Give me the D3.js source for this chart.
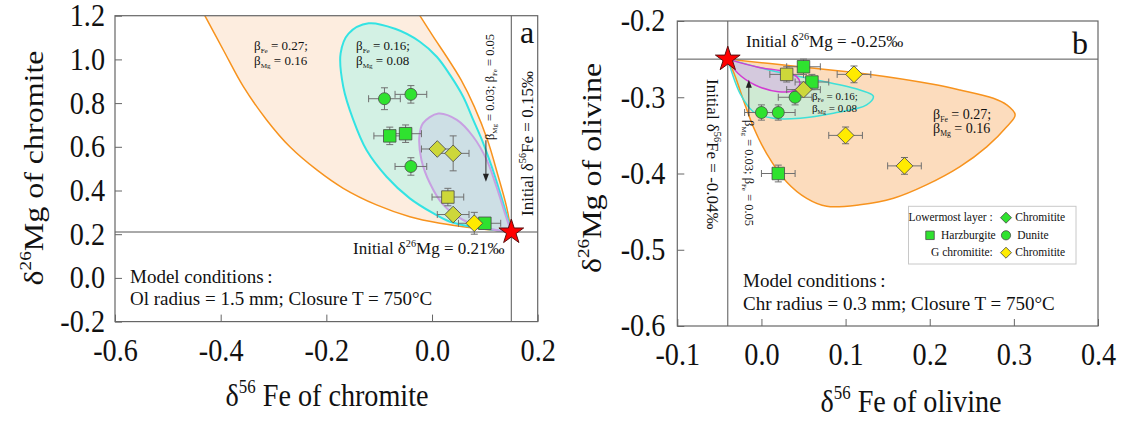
<!DOCTYPE html>
<html>
<head>
<meta charset="utf-8">
<script src="https://cdn.jsdelivr.net/npm/d3@7"></script>
<style>
  html, body { margin: 0; padding: 0; background: #fff; }
  svg { display: block; font-family: "Liberation Serif", "Times New Roman", serif; }
  text { white-space: pre; }
</style>
</head>
<body>
<svg id="chart" width="1123" height="421"></svg>
<script>
// ---------------- Panel a: chromite ----------------
const aFeTicks = [-0.6, -0.4, -0.2, 0.0, 0.2];
const aMgTicks = [-0.2, 0.0, 0.2, 0.4, 0.6, 0.8, 1.0, 1.2];
const aInitFe = 0.15;
const aInitMg = 0.21;

// [δ56Fe, δ26Mg, ±Fe, ±Mg]
const aHarzburgite = [[-0.08, 0.65, 0.03, 0.04], [-0.05, 0.66, 0.03, 0.04], [0.10, 0.25, 0.03, 0.02]];
const aDunite = [[-0.09, 0.82, 0.03, 0.05], [-0.04, 0.84, 0.03, 0.04], [-0.04, 0.51, 0.03, 0.04]];
const aLowerChromitite = [[0.01, 0.59, 0.03, 0.02], [0.04, 0.57, 0.03, 0.08], [0.04, 0.29, 0.03, 0.02]];
const aLowerSquare = [[0.03, 0.37, 0.03, 0.04]];
const aGChromitite = [[0.08, 0.25, 0.03, 0.05]];

// diffusion model envelopes [δ56Fe, δ26Mg]
const aModel27Left = [[-0.43, 1.2], [-0.395, 1.043], [-0.357, 0.875], [-0.313, 0.723], [-0.269, 0.600],
  [-0.218, 0.494], [-0.168, 0.410], [-0.105, 0.334], [-0.042, 0.280], [0.015, 0.250], [0.078, 0.228], [0.15, 0.21]];
const aModel27Right = [[0.15, 0.21], [0.141, 0.326], [0.1255, 0.463], [0.105, 0.631], [0.080, 0.784],
  [0.055, 0.906], [0.0277, 1.012], [0.0024, 1.104], [-0.023, 1.2]];
const aModel16 = [[0.15, 0.21], [0.144, 0.265], [0.129, 0.387], [0.113, 0.509], [0.097, 0.616], [0.078, 0.723],
  [0.059, 0.829], [0.034, 0.929], [0.009, 1.012], [-0.023, 1.081], [-0.070, 1.140], [-0.120, 1.165],
  [-0.158, 1.118], [-0.173, 1.028], [-0.168, 0.875], [-0.149, 0.723], [-0.124, 0.585], [-0.086, 0.463],
  [-0.042, 0.364], [0.002, 0.296], [0.034, 0.257], [0.078, 0.233], [0.119, 0.219], [0.15, 0.21]];
const aModel03 = [[0.15, 0.21], [0.138, 0.296], [0.122, 0.417], [0.1035, 0.540], [0.078, 0.646], [0.047, 0.723],
  [0.012, 0.752], [-0.017, 0.708], [-0.024, 0.646], [-0.020, 0.540], [-0.004, 0.433], [0.021, 0.335],
  [0.059, 0.265], [0.1035, 0.227], [0.15, 0.21]];

// ---------------- Panel b: olivine ----------------
const bFeTicks = [-0.1, 0.0, 0.1, 0.2, 0.3, 0.4];
const bMgTicks = [-0.6, -0.5, -0.4, -0.3, -0.2];
const bInitFe = -0.04;
const bInitMg = -0.25;

const bHarzburgite = [[0.05, -0.26, 0.02, 0.01], [0.06, -0.28, 0.02, 0.01], [0.02, -0.40, 0.02, 0.011]];
const bDunite = [[0.04, -0.30, 0.02, 0.01], [0.00, -0.32, 0.02, 0.01], [0.02, -0.32, 0.02, 0.01]];
const bLowerChromitite = [[0.05, -0.29, 0.02, 0.005]];
const bLowerSquare = [[0.03, -0.27, 0.02, 0.01]];
const bGChromitite = [[0.11, -0.27, 0.02, 0.011], [0.10, -0.35, 0.02, 0.011], [0.17, -0.39, 0.02, 0.011]];

const bModel27 = [[-0.04, -0.25], [0.0456, -0.260], [0.125, -0.2695], [0.204, -0.283], [0.236, -0.2905],
  [0.2756, -0.3014], [0.2915, -0.310], [0.3015, -0.323], [0.2915, -0.3386], [0.2677, -0.365], [0.236, -0.391],
  [0.196, -0.415], [0.157, -0.4325], [0.117, -0.441], [0.0776, -0.443], [0.0538, -0.4325], [0.030, -0.411],
  [0.006, -0.3735], [-0.0097, -0.3386], [-0.0215, -0.3036], [-0.031, -0.273], [-0.04, -0.25]];
const bModel16 = [[-0.04, -0.25], [0.018, -0.2665], [0.0657, -0.2774], [0.117, -0.2905], [0.133, -0.2987],
  [0.125, -0.310], [0.0855, -0.321], [0.0459, -0.3276], [0.014, -0.3276], [-0.0097, -0.319], [-0.0255, -0.295],
  [-0.04, -0.25]];
const bModel03 = [[-0.04, -0.25], [-0.004, -0.2607], [0.028, -0.2665], [0.042, -0.273], [0.0458, -0.2817],
  [0.040, -0.2905], [0.020, -0.2927], [-0.0076, -0.2839], [-0.028, -0.2686], [-0.04, -0.25]];

// ---------------- styles ----------------
const GREEN = "#2fe22f", OLIVE = "#cdd73a", YELLOW = "#ffeb00";
const MARK_STROKE = "#4a4a4a";
const FONT_TICK = 31, TICK_SQUEEZE = 0.91;
const FONT_TITLE = 32, TITLE_SQUEEZE = 0.88;

const svg = d3.select("#chart");
svg.append("rect").attr("width", 1123).attr("height", 421).attr("fill", "#fff");

// text with super/subscript runs; optional rotation and glyph squeeze
function rich(g, x, y, size, parts, opts = {}) {
  const [sx, sy] = opts.scale || [1, 1];
  const t = g.append("text")
    .attr("x", 0).attr("y", 0)
    .attr("font-size", size)
    .attr("fill", "#111")
    .attr("text-anchor", opts.anchor || "start")
    .attr("transform", `translate(${x},${y}) rotate(${opts.rotate || 0}) scale(${sx},${sy})`);
  let shift = 0;
  parts.forEach(p => {
    const [str, kind] = Array.isArray(p) ? p : [p, null];
    const target = kind === "sup" ? -size * 0.42 : kind === "sub" ? size * 0.22 : 0;
    const ts = t.append("tspan").text(str).attr("dy", target - shift);
    if (kind) ts.attr("font-size", size * (kind === "sup" ? 0.6 : 0.55));
    shift = target;
  });
  return t;
}

function markerPath(shape) {
  if (shape === "circle") return d3.symbol(d3.symbolCircle, Math.PI * 6 * 6)();
  if (shape === "square") return d3.symbol(d3.symbolSquare, 12.5 * 12.5)();
  return d3.symbol(d3.symbolSquare, 11.8 * 11.8)(); // rotated into a diamond
}

function drawPanel(cfg) {
  const { id, x, y, xTicks, yTicks } = cfg;
  const g = svg.append("g");
  const [x0, x1] = x.range(), [y0, y1] = y.range();

  const clip = svg.append("clipPath").attr("id", "clip-" + id);
  clip.append("rect").attr("x", x0).attr("y", y1).attr("width", x1 - x0).attr("height", y0 - y1);
  const plot = g.append("g").attr("clip-path", `url(#clip-${id})`);

  const line = d3.line().x(d => x(d[0])).y(d => y(d[1])).curve(d3.curveCatmullRom.alpha(0.5));

  // model envelopes: fills first, outlines afterwards
  cfg.envelopes.forEach(e => {
    plot.append("path").attr("d", e.fillPath ? e.fillPath(line) : line(e.pts) + "Z")
      .attr("fill", e.fill).attr("stroke", "none");
  });
  cfg.envelopes.forEach(e => {
    (e.strokes || [e.pts]).forEach(s => {
      plot.append("path").attr("d", line(s)).attr("fill", "none")
        .attr("stroke", e.stroke).attr("stroke-width", e.width);
    });
  });

  // initial composition reference lines
  g.append("line").attr("x1", x0).attr("x2", x1).attr("y1", y(cfg.initMg)).attr("y2", y(cfg.initMg))
    .attr("stroke", "#555").attr("stroke-width", 1);
  g.append("line").attr("x1", x(cfg.initFe)).attr("x2", x(cfg.initFe)).attr("y1", y0).attr("y2", y1)
    .attr("stroke", "#555").attr("stroke-width", 1);

  // axes (ticks point inward)
  const fmt = d => d.toFixed(1);
  const xAxis = g.append("g").attr("transform", `translate(0,${y0})`)
    .call(d3.axisBottom(x).tickValues(xTicks).tickFormat(fmt).tickSizeInner(-7).tickSizeOuter(0).tickPadding(17));
  const yAxis = g.append("g").attr("transform", `translate(${x0},0)`)
    .call(d3.axisLeft(y).tickValues(yTicks).tickFormat(fmt).tickSizeInner(-7).tickSizeOuter(0)
      .tickPadding(cfg.yPad / TICK_SQUEEZE));
  [xAxis, yAxis].forEach(a => {
    a.attr("font-family", null).attr("font-size", null);
    a.select(".domain").remove();
    a.selectAll(".tick line").attr("stroke", "#666");
    a.selectAll(".tick text").attr("font-size", FONT_TICK).attr("fill", "#111")
      .attr("transform", `scale(${TICK_SQUEEZE},1)`);
  });

  // frame
  g.append("rect").attr("x", x0).attr("y", y1).attr("width", x1 - x0).attr("height", y0 - y1)
    .attr("fill", "none").attr("stroke", "#666").attr("stroke-width", 1.2);

  // error bars
  const eb = g.append("g").attr("stroke", "#707070").attr("stroke-width", 1).attr("fill", "none");
  const cap = 3.5;
  cfg.groups.forEach(grp => grp.data.forEach(d => {
    const cx = x(d[0]), cy = y(d[1]);
    const xl = x(d[0] - d[2]), xr = x(d[0] + d[2]);
    const yt = y(d[1] + d[3]), yb = y(d[1] - d[3]);
    eb.append("line").attr("x1", xl).attr("x2", xr).attr("y1", cy).attr("y2", cy);
    eb.append("line").attr("x1", xl).attr("x2", xl).attr("y1", cy - cap).attr("y2", cy + cap);
    eb.append("line").attr("x1", xr).attr("x2", xr).attr("y1", cy - cap).attr("y2", cy + cap);
    eb.append("line").attr("x1", cx).attr("x2", cx).attr("y1", yt).attr("y2", yb);
    eb.append("line").attr("x1", cx - cap).attr("x2", cx + cap).attr("y1", yt).attr("y2", yt);
    eb.append("line").attr("x1", cx - cap).attr("x2", cx + cap).attr("y1", yb).attr("y2", yb);
  }));

  // markers
  cfg.groups.forEach(grp => {
    g.append("g").selectAll("path").data(grp.data).join("path")
      .attr("d", markerPath(grp.shape))
      .attr("transform", d => `translate(${x(d[0])},${y(d[1])})` + (grp.shape === "diamond" ? " rotate(45)" : ""))
      .attr("fill", grp.color).attr("stroke", MARK_STROKE).attr("stroke-width", 0.8);
  });

  // initial composition star
  g.append("path")
    .attr("d", d3.symbol(d3.symbolStar, 13 * 13 / 0.8908130915))
    .attr("transform", `translate(${x(cfg.initFe)},${y(cfg.initMg)})`)
    .attr("fill", "#ff0000").attr("stroke", "#5a1010").attr("stroke-width", 1);

  // arrow for the small-β envelope
  const ar = cfg.arrow;
  const axp = x(ar.fe), ya = y(ar.from), yb2 = y(ar.to);
  const dir = yb2 > ya ? 1 : -1;
  g.append("line").attr("x1", axp).attr("x2", axp).attr("y1", ya).attr("y2", yb2 - dir * 6)
    .attr("stroke", "#333").attr("stroke-width", 1);
  g.append("path")
    .attr("d", `M${axp},${yb2} L${axp - 3},${yb2 - dir * 8} L${axp + 3},${yb2 - dir * 8} Z`)
    .attr("fill", "#222");

  return g;
}

// ---------------- panel a ----------------
const ax = d3.scaleLinear().domain([-0.6, 0.2]).range([115, 537.7]);
const ay = d3.scaleLinear().domain([-0.2, 1.2]).range([321.6, 15.7]);

const gA = drawPanel({
  id: "a", x: ax, y: ay, xTicks: aFeTicks, yTicks: aMgTicks, yPad: 10,
  initFe: aInitFe, initMg: aInitMg,
  envelopes: [
    { fill: "#fdeddf", stroke: "#f7931e", width: 1.5,
      fillPath: line => line(aModel27Right) + line(aModel27Left).replace(/^M/, "L") + "Z",
      strokes: [aModel27Left, aModel27Right] },
    { pts: aModel16, fill: "#d3f1e4", stroke: "#33e3e3", width: 2 },
    { pts: aModel03, fill: "#cddfe5", stroke: "#c8a0e2", width: 2 }
  ],
  groups: [
    { data: aHarzburgite, shape: "square", color: GREEN },
    { data: aDunite, shape: "circle", color: GREEN },
    { data: aLowerSquare, shape: "square", color: OLIVE },
    { data: aLowerChromitite, shape: "diamond", color: OLIVE },
    { data: aGChromitite, shape: "diamond", color: YELLOW }
  ],
  arrow: { fe: 0.102, from: 0.63, to: 0.44 }
});

rich(gA, 43, 168, FONT_TITLE, ["δ", ["26", "sup"], "Mg of chromite"],
  { anchor: "middle", rotate: -90, scale: [1, TITLE_SQUEEZE] });
rich(gA, 327, 406, FONT_TITLE, ["δ", ["56", "sup"], " Fe of chromite"],
  { anchor: "middle", scale: [TITLE_SQUEEZE, 1] });
rich(gA, 353, 254, 17, ["Initial δ", ["26", "sup"], "Mg = 0.21‰"]);
rich(gA, 533, 216, 17, ["Initial δ", ["56", "sup"], "Fe = 0.15‰"], { rotate: -90 });
rich(gA, 527, 43, 32, ["a"], { anchor: "middle" });
rich(gA, 254, 50, 13, ["β", ["Fe", "sub"], " = 0.27;"]);
rich(gA, 254, 65, 13, ["β", ["Mg", "sub"], " = 0.16"]);
rich(gA, 356, 50, 13, ["β", ["Fe", "sub"], " = 0.16;"]);
rich(gA, 356, 65, 13, ["β", ["Mg", "sub"], " = 0.08"]);
rich(gA, 494, 140, 12.5, ["β", ["Mg", "sub"], " = 0.03; β", ["Fe", "sub"], " = 0.05"], { rotate: -90 });
rich(gA, 130, 283, 19, ["Model conditions\u2009:"]);
rich(gA, 130, 305, 19, ["Ol radius = 1.5 mm; Closure T = 750°C"]);

// ---------------- panel b ----------------
const bx = d3.scaleLinear().domain([-0.1, 0.4]).range([677.3, 1098]);
const by = d3.scaleLinear().domain([-0.6, -0.2]).range([326, 21]);

const gB = drawPanel({
  id: "b", x: bx, y: by, xTicks: bFeTicks, yTicks: bMgTicks, yPad: 12,
  initFe: bInitFe, initMg: bInitMg,
  envelopes: [
    { pts: bModel27, fill: "#fcdcbd", stroke: "#f7931e", width: 1.5 },
    { pts: bModel16, fill: "#cfead3", stroke: "#3ee0d8", width: 1.5 },
    { pts: bModel03, fill: "#d4c9dd", stroke: "#d23cd2", width: 1.5 }
  ],
  groups: [
    { data: bHarzburgite, shape: "square", color: GREEN },
    { data: bDunite, shape: "circle", color: GREEN },
    { data: bLowerSquare, shape: "square", color: OLIVE },
    { data: bLowerChromitite, shape: "diamond", color: OLIVE },
    { data: bGChromitite, shape: "diamond", color: YELLOW }
  ],
  arrow: { fe: -0.015, from: -0.325, to: -0.277 }
});

rich(gB, 601, 168, FONT_TITLE, ["δ", ["26", "sup"], "Mg of olivine"],
  { anchor: "middle", rotate: -90, scale: [1, TITLE_SQUEEZE] });
rich(gB, 911, 412, FONT_TITLE, ["δ", ["56", "sup"], " Fe of olivine"],
  { anchor: "middle", scale: [TITLE_SQUEEZE, 1] });
rich(gB, 746, 47, 17, ["Initial δ", ["26", "sup"], "Mg = -0.25‰"]);
rich(gB, 707, 79, 17, ["Initial δ", ["56", "sup"], "Fe = -0.04‰"], { rotate: 90 });
rich(gB, 1080, 54, 32, ["b"], { anchor: "middle" });
rich(gB, 745, 120, 12.5, ["β", ["Mg", "sub"], " = 0.03; β", ["Fe", "sub"], " = 0.05"], { rotate: 90 });
rich(gB, 812, 100, 11, ["β", ["Fe", "sub"], " = 0.16;"]);
rich(gB, 812, 112, 11, ["β", ["Mg", "sub"], " = 0.08"]);
rich(gB, 933, 119, 14, ["β", ["Fe", "sub"], " = 0.27;"]);
rich(gB, 933, 133, 14, ["β", ["Mg", "sub"], " = 0.16"]);
rich(gB, 743, 287, 19, ["Model conditions\u2009:"]);
rich(gB, 743, 310, 19, ["Chr radius = 0.3 mm; Closure T = 750°C"]);

// legend
const leg = gB.append("g");
leg.append("rect").attr("x", 908.5).attr("y", 206.3).attr("width", 167.5).attr("height", 57.7)
  .attr("fill", "#fff").attr("stroke", "#c8c8c8").attr("stroke-width", 1);
const legendRows = [
  { label: "Lowermost layer :", lx: 992.7, y: 221 },
  { label: "G chromitite:", lx: 992.7, y: 255.7 }
];
legendRows.forEach(r => rich(leg, r.lx, r.y, 11.5, [r.label], { anchor: "end" }));
const legendItems = [
  { shape: "diamond", color: GREEN, cx: 1006, cy: 217.7, label: "Chromitite", tx: 1015.3, ty: 221 },
  { shape: "square", color: GREEN, cx: 930, cy: 235.3, label: "Harzburgite", tx: 941, ty: 238.5 },
  { shape: "circle", color: GREEN, cx: 1006, cy: 235.3, label: "Dunite", tx: 1017.3, ty: 238.5 },
  { shape: "diamond", color: YELLOW, cx: 1006, cy: 252.7, label: "Chromitite", tx: 1015.3, ty: 255.7 }
];
legendItems.forEach(it => {
  const p = it.shape === "circle" ? d3.symbol(d3.symbolCircle, Math.PI * 4.6 * 4.6)()
    : it.shape === "square" ? d3.symbol(d3.symbolSquare, 8.5 * 8.5)()
    : d3.symbol(d3.symbolSquare, 7.8 * 7.8)();
  leg.append("path").attr("d", p)
    .attr("transform", `translate(${it.cx},${it.cy})` + (it.shape === "diamond" ? " rotate(45)" : ""))
    .attr("fill", it.color).attr("stroke", MARK_STROKE).attr("stroke-width", 0.8);
  rich(leg, it.tx, it.ty, 11.5, [it.label]);
});
</script>
</body>
</html>
